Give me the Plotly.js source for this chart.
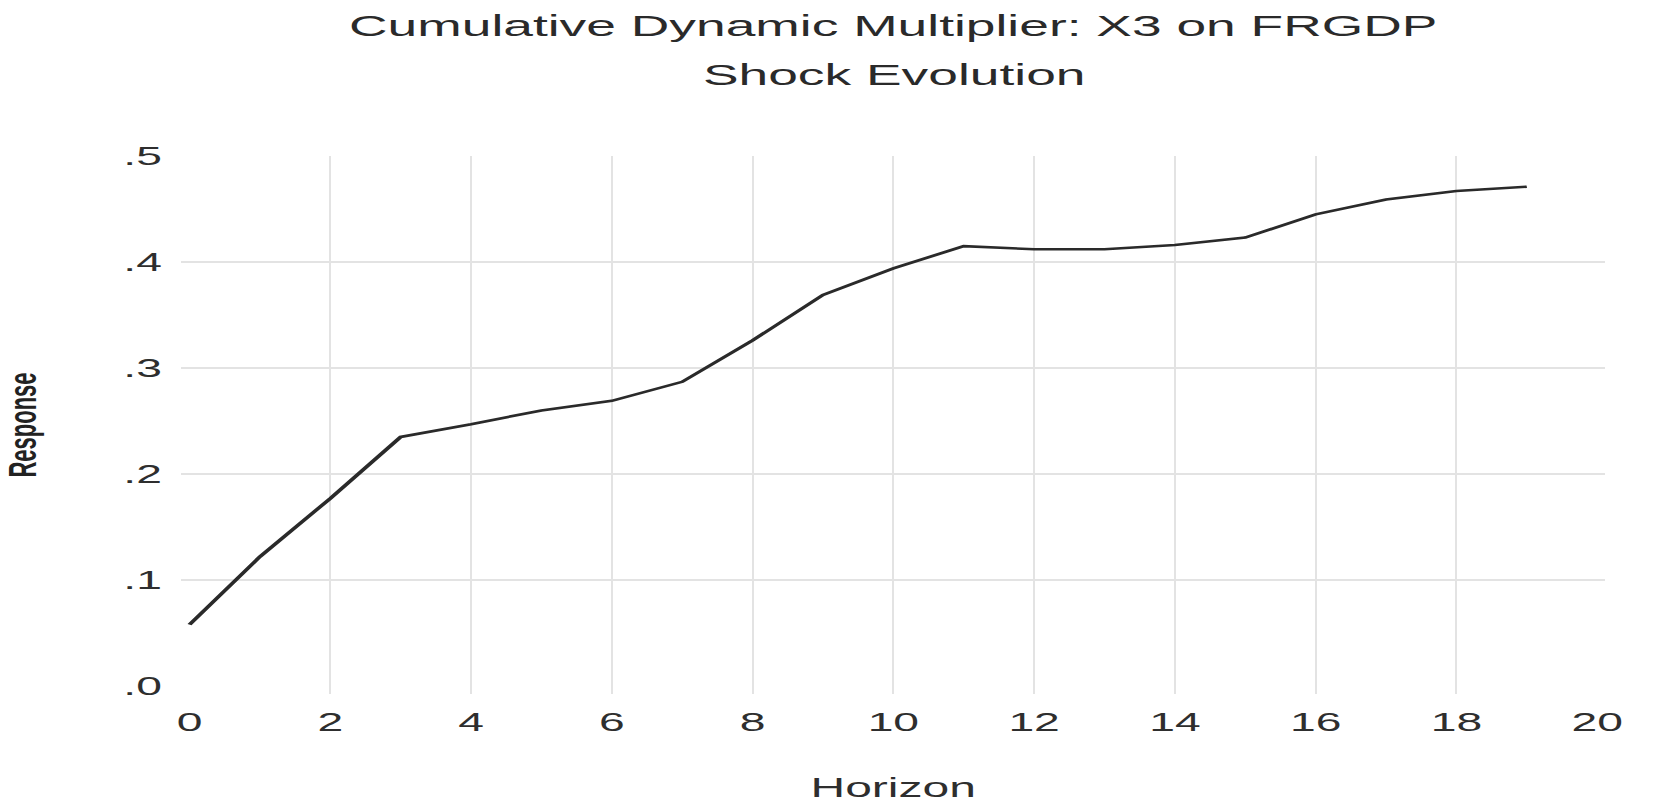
<!DOCTYPE html>
<html>
<head>
<meta charset="utf-8">
<script src="https://cdn.plot.ly/plotly-3.0.1.min.js"></script>
<style>
  html, body { margin: 0; padding: 0; background: #ffffff; overflow: hidden; }
  #wrap { width: 1653px; height: 806px; overflow: hidden; }
  #chart { width: 929px; height: 806px; transform: scaleX(1.7793); transform-origin: 0 0; }
</style>
</head>
<body>
<div id="wrap"><div id="chart"></div></div>
<script>
// ---- data ----
const horizon = [0, 1, 2, 3, 4, 5, 6, 7, 8, 9, 10, 11, 12, 13, 14, 15, 16, 17, 18, 19];
const response = [0.058, 0.122, 0.177, 0.235, 0.247, 0.260, 0.269, 0.287, 0.326, 0.369,
                  0.394, 0.415, 0.412, 0.412, 0.416, 0.423, 0.445, 0.459, 0.467, 0.471];
const xTickVals = [0, 2, 4, 6, 8, 10, 12, 14, 16, 18, 20];
const xGridVals = [2, 4, 6, 8, 10, 12, 14, 16, 18];
const yTickVals = [0, 0.1, 0.2, 0.3, 0.4, 0.5];
const yTickText = ['.0', '.1', '.2', '.3', '.4', '.5'];
const yGridVals = [0.1, 0.2, 0.3, 0.4];
const titleLine1 = 'Cumulative Dynamic Multiplier: X3 on FRGDP';
const titleLine2 = 'Shock Evolution';
const xTitle = 'Horizon';
const yTitle = 'Response';

// ---- styling ----
const FONT = 'Liberation Sans, Arial, sans-serif';
const TXT = '#2e2e2e';
const GRID = '#e3e3e3';
const xRange = [-0.114, 20.11];
const yRange = [-0.0075, 0.5];

const traces = [
  { x: horizon, y: response, xaxis: 'x2', yaxis: 'y2', mode: 'lines', opacity: 0,
    hoverinfo: 'skip', showlegend: false, line: { width: 1 } },
  { x: horizon, y: response, xaxis: 'x', yaxis: 'y', mode: 'lines', showlegend: false,
    line: { color: '#2a2a2a', width: 2.6 } }
];

const layout = {
  width: 929, height: 806,
  margin: { l: 102, r: 27, t: 156, b: 112 },
  paper_bgcolor: '#ffffff', plot_bgcolor: '#ffffff',
  font: { family: FONT, color: TXT },
  showlegend: false,
  title: { text: titleLine1, font: { family: FONT, size: 30, color: '#2a2a2a' },
           xref: 'paper', x: 0.5, xanchor: 'center', yref: 'container', y: 0.968, yanchor: 'middle' },
  xaxis: { range: xRange, tickmode: 'array', tickvals: xTickVals, showgrid: false, zeroline: false,
           showline: false, ticks: '', ticklabelstandoff: 10, tickfont: { size: 26, color: TXT },
           automargin: false,
           title: { text: xTitle, font: { size: 27, color: TXT }, standoff: 42 } },
  yaxis: { range: yRange, tickmode: 'array', tickvals: yTickVals, ticktext: yTickText, showgrid: false,
           zeroline: false, showline: false, ticks: '', ticklabelstandoff: 10,
           tickfont: { size: 26, color: TXT }, automargin: false,
           title: { text: yTitle, font: { size: 22, color: '#222222', weight: 'bold' }, standoff: 46 } },
  xaxis2: { overlaying: 'x', range: xRange, tickmode: 'array', tickvals: xGridVals, showgrid: true,
            gridcolor: GRID, gridwidth: 1.2, showticklabels: false, zeroline: false, showline: false, ticks: '' },
  yaxis2: { overlaying: 'y', range: yRange, tickmode: 'array', tickvals: yGridVals, showgrid: true,
            gridcolor: GRID, gridwidth: 2.5, showticklabels: false, zeroline: false, showline: false, ticks: '' },
  annotations: [
    { text: titleLine2, xref: 'paper', yref: 'paper', x: 0.5, y: 1.152, xanchor: 'center', yanchor: 'middle',
      showarrow: false, font: { family: FONT, size: 30, color: '#2a2a2a' } }
  ]
};

Plotly.newPlot('chart', traces, layout, { displayModeBar: false, staticPlot: true, responsive: false });
</script>
</body>
</html>
